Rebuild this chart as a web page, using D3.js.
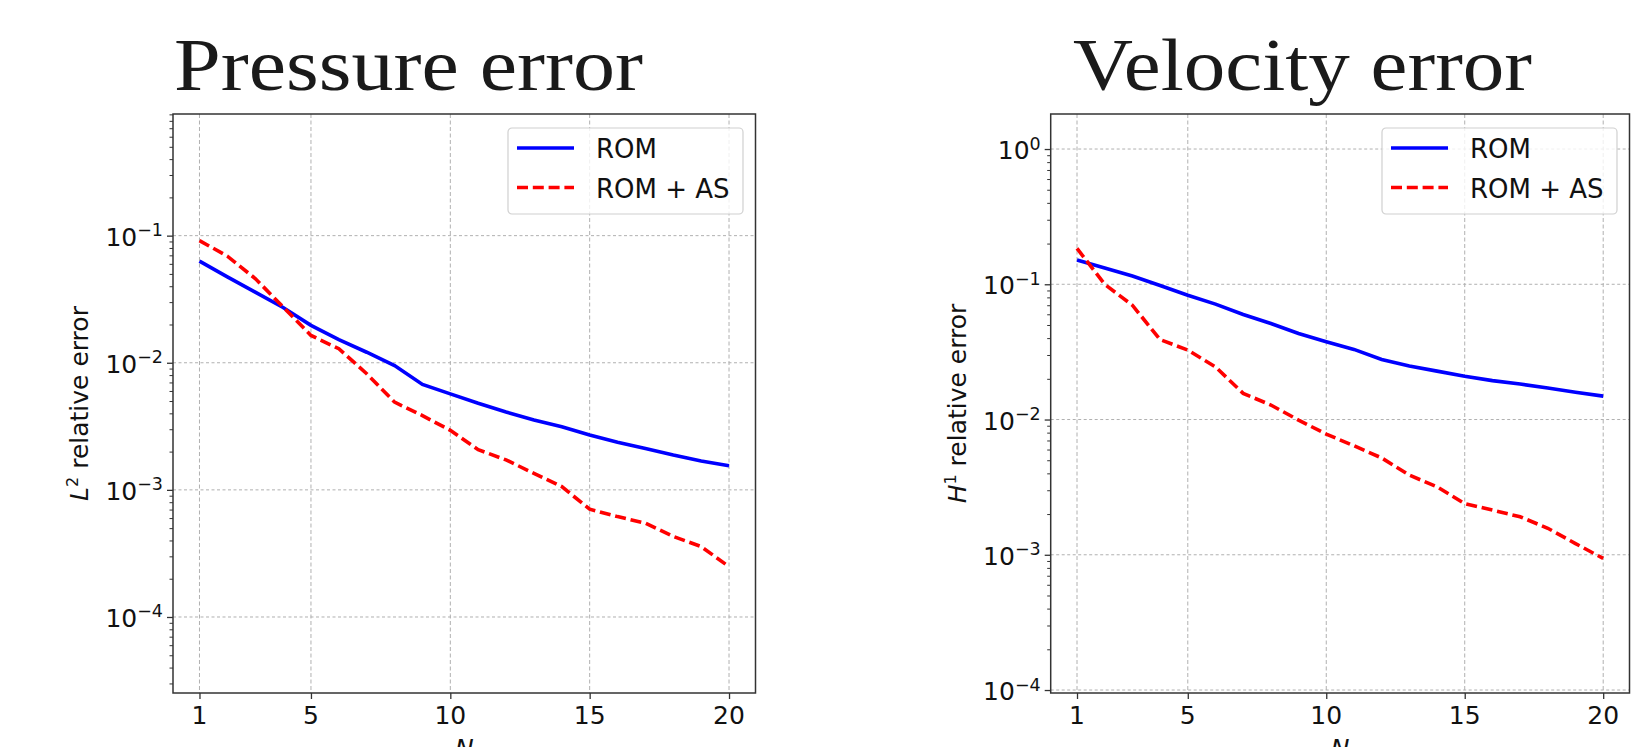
<!DOCTYPE html>
<html>
<head>
<meta charset="utf-8">
<script src="https://cdn.jsdelivr.net/npm/d3@7"></script>
<style>
  body { margin: 0; background: #fff; }
  svg { display: block; }
</style>
</head>
<body>
<div id="chart"></div>
<script>
// data
const nValues = [1, 2, 3, 4, 5, 6, 7, 8, 9, 10, 11, 12, 13, 14, 15, 16, 17, 18, 19, 20];
const xTicks = [1, 5, 10, 15, 20];
const seriesNames = ["ROM", "ROM + AS"];

const pressureRom = [0.063, 0.0474, 0.0359, 0.0272, 0.0197, 0.0152, 0.0121, 0.0095, 0.00675, 0.00569,
                     0.0048, 0.0041, 0.00355, 0.00314, 0.0027, 0.00237, 0.00212, 0.00188, 0.00169, 0.00155];
const pressureRomAs = [0.0914, 0.069, 0.046, 0.0275, 0.0164, 0.0129, 0.0082, 0.0049, 0.00384, 0.00294,
                       0.00207, 0.00172, 0.00135, 0.00106, 0.000705, 0.000616, 0.000547, 0.00043, 0.000358, 0.000249];
const velocityRom = [0.151, 0.132, 0.115, 0.098, 0.083, 0.0713, 0.0598, 0.0513, 0.0433, 0.0376,
                     0.033, 0.0278, 0.0249, 0.0228, 0.0209, 0.0194, 0.0183, 0.0171, 0.0159, 0.0149];
const velocityRomAs = [0.184, 0.1, 0.07, 0.039, 0.0326, 0.0245, 0.0156, 0.0128, 0.0099, 0.0078,
                       0.0064, 0.0052, 0.00388, 0.00318, 0.00239, 0.00214, 0.00191, 0.00157, 0.00121, 0.00094];

const pressureYTicks = [1e-1, 1e-2, 1e-3, 1e-4];
const velocityYTicks = [1e0, 1e-1, 1e-2, 1e-3, 1e-4];
const pressureYLimits = [Math.pow(10, -4.598), Math.pow(10, -0.043)];
const velocityYLimits = [Math.pow(10, -4.022), Math.pow(10, 0.259)];
const xLimits = [0.05, 20.95];

const W = 1642, H = 747;
const colors = ["#0000ff", "#ff0000"];
const dashes = [null, "11,4.8"];
const tickFont = "DejaVu Sans, sans-serif";

const svg = d3.select("#chart").append("svg")
    .attr("width", W)
    .attr("height", H);

svg.append("rect").attr("width", W).attr("height", H).attr("fill", "#fff");

function drawPanel(p) {
    const x = d3.scaleLinear().domain(xLimits).range([p.left, p.right]);
    const y = d3.scaleLog().domain(p.yLimits).range([p.bottom, p.top]);
    const g = svg.append("g");

    // title
    g.append("text")
        .attr("x", p.titleX)
        .attr("y", 90)
        .attr("font-family", "Liberation Serif, DejaVu Serif, serif")
        .attr("font-size", 75)
        .attr("fill", "#1a1a1a")
        .attr("textLength", p.titleWidth)
        .attr("lengthAdjust", "spacingAndGlyphs")
        .text(p.title);

    // grid
    g.append("g").selectAll("line")
        .data(xTicks)
        .join("line")
        .attr("x1", d => x(d)).attr("x2", d => x(d))
        .attr("y1", p.top).attr("y2", p.bottom)
        .attr("stroke", "#b0b0b0")
        .attr("stroke-width", 1)
        .attr("stroke-dasharray", "4,2.5");
    g.append("g").selectAll("line")
        .data(p.yTicks)
        .join("line")
        .attr("x1", p.left).attr("x2", p.right)
        .attr("y1", d => y(d)).attr("y2", d => y(d))
        .attr("stroke", "#b0b0b0")
        .attr("stroke-width", 1)
        .attr("stroke-dasharray", "3,2.5");

    // minor ticks for the log axis
    const minor = [];
    const lo = Math.floor(Math.log10(p.yLimits[0])), hi = Math.ceil(Math.log10(p.yLimits[1]));
    for (let e = lo; e < hi; e++) {
        for (let k = 2; k <= 9; k++) {
            const v = k * Math.pow(10, e);
            if (v >= p.yLimits[0] && v <= p.yLimits[1]) minor.push(v);
        }
    }
    g.append("g")
        .attr("transform", `translate(${p.left},0)`)
        .call(d3.axisLeft(y).tickValues(minor).tickSize(3.5).tickFormat(""))
        .call(a => a.select(".domain").remove())
        .selectAll("line").attr("stroke", "#333").attr("stroke-width", 1);

    const yAxis = g.append("g")
        .attr("transform", `translate(${p.left},0)`)
        .call(d3.axisLeft(y).tickValues(p.yTicks).tickSize(6).tickFormat(""));
    yAxis.select(".domain").remove();
    yAxis.selectAll("line").attr("stroke", "#333").attr("stroke-width", 1.3);

    const xAxis = g.append("g")
        .attr("transform", `translate(0,${p.bottom})`)
        .call(d3.axisBottom(x).tickValues(xTicks).tickSize(6).tickFormat(""));
    xAxis.select(".domain").remove();
    xAxis.selectAll("line").attr("stroke", "#333").attr("stroke-width", 1.3);

    // tick labels
    g.append("g").selectAll("text")
        .data(xTicks)
        .join("text")
        .attr("x", d => x(d))
        .attr("y", p.bottom + 31)
        .attr("text-anchor", "middle")
        .attr("font-family", tickFont)
        .attr("font-size", 25)
        .attr("fill", "#111")
        .text(d => d);

    const yl = g.append("g").selectAll("text")
        .data(p.yTicks)
        .join("text")
        .attr("x", p.left - 10)
        .attr("y", d => y(d) + 10)
        .attr("text-anchor", "end")
        .attr("font-family", tickFont)
        .attr("font-size", 25)
        .attr("fill", "#111");
    yl.append("tspan").text("10");
    yl.append("tspan")
        .attr("dy", -9.5)
        .attr("font-size", 17.5)
        .text(d => {
            const e = Math.round(Math.log10(d));
            return e < 0 ? "\u2212" + (-e) : String(e);
        });

    // lines
    const line = d3.line()
        .x((d, i) => x(nValues[i]))
        .y(d => y(d));
    p.series.forEach((s, i) => {
        g.append("path")
            .datum(s)
            .attr("fill", "none")
            .attr("stroke", colors[i])
            .attr("stroke-width", 3.6)
            .attr("stroke-dasharray", dashes[i])
            .attr("d", line);
    });

    // frame
    g.append("rect")
        .attr("x", p.left).attr("y", p.top)
        .attr("width", p.right - p.left)
        .attr("height", p.bottom - p.top)
        .attr("fill", "none")
        .attr("stroke", "#333")
        .attr("stroke-width", 1.5);

    // axis labels
    const yLab = g.append("text")
        .attr("transform", `translate(${p.yLabelX},${(p.top + p.bottom) / 2}) rotate(-90)`)
        .attr("text-anchor", "middle")
        .attr("font-family", tickFont)
        .attr("font-size", 25)
        .attr("fill", "#111");
    yLab.append("tspan").attr("font-style", "italic").text(p.yLabelSym);
    yLab.append("tspan").attr("dy", -10).attr("font-size", 16).text(p.yLabelSup);
    yLab.append("tspan").attr("dy", 10).text(" relative error");

    // x label: the reference crops it at the bottom edge
    g.append("text")
        .attr("x", (p.left + p.right) / 2)
        .attr("y", p.bottom + 64)
        .attr("text-anchor", "middle")
        .attr("font-family", tickFont)
        .attr("font-style", "italic")
        .attr("font-size", 25)
        .attr("fill", "#111")
        .text("N");

    // legend
    const lx = p.right - 12.5 - 235, ly = p.top + 14;
    const leg = g.append("g").attr("transform", `translate(${lx},${ly})`);
    leg.append("rect")
        .attr("width", 235).attr("height", 86)
        .attr("rx", 4)
        .attr("fill", "#fff").attr("fill-opacity", 0.8)
        .attr("stroke", "#d0d0d0").attr("stroke-width", 1.2);
    const rows = leg.selectAll("g.row")
        .data(seriesNames)
        .join("g")
        .attr("class", "row")
        .attr("transform", (d, i) => `translate(0,${20 + i * 39.5})`);
    rows.append("line")
        .attr("x1", 9).attr("x2", 66)
        .attr("stroke", (d, i) => colors[i])
        .attr("stroke-width", 3.6)
        .attr("stroke-dasharray", (d, i) => dashes[i]);
    rows.append("text")
        .attr("x", 88)
        .attr("y", 10)
        .attr("font-family", tickFont)
        .attr("font-size", 26)
        .attr("fill", "#111")
        .text(d => d);
}

drawPanel({
    title: "Pressure error", titleX: 174, titleWidth: 469,
    left: 173, right: 755.5, top: 114, bottom: 693,
    yLimits: pressureYLimits, yTicks: pressureYTicks,
    yLabelX: 88, yLabelSym: "L", yLabelSup: "2",
    series: [pressureRom, pressureRomAs]
});

drawPanel({
    title: "Velocity error", titleX: 1073, titleWidth: 459,
    left: 1050.7, right: 1629.5, top: 114, bottom: 693,
    yLimits: velocityYLimits, yTicks: velocityYTicks,
    yLabelX: 966, yLabelSym: "H", yLabelSup: "1",
    series: [velocityRom, velocityRomAs]
});
</script>
</body>
</html>
